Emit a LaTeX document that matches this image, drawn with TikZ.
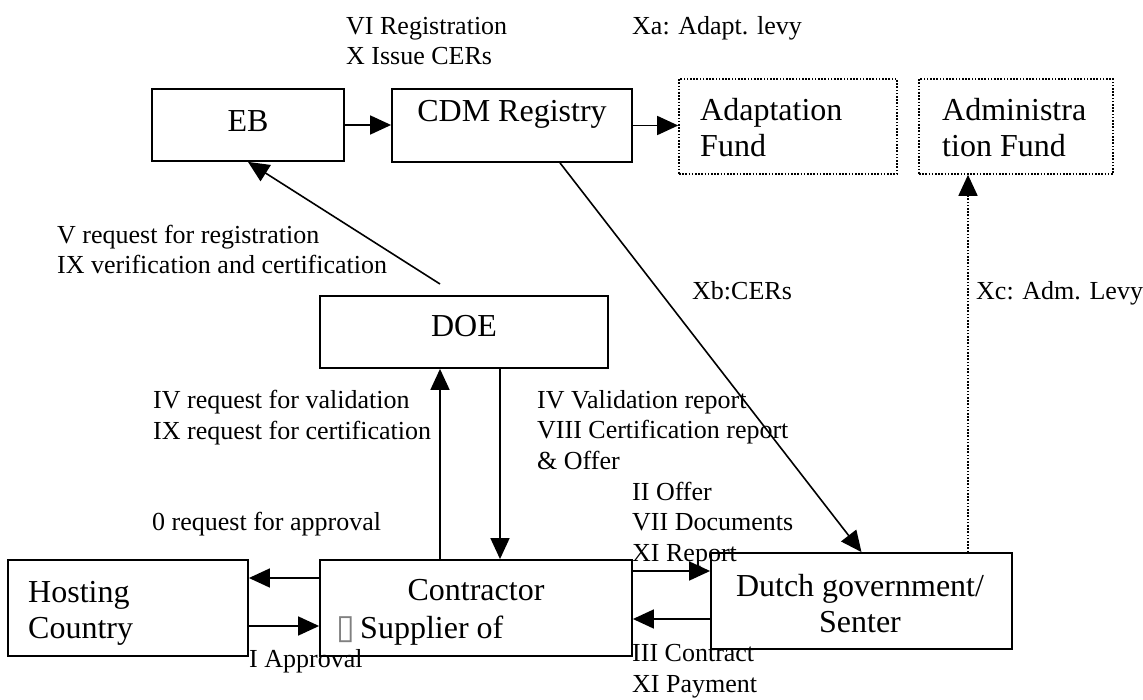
\documentclass[tikz,border=0pt]{standalone}
\usepackage{fontspec}
\setmainfont{Liberation Serif}
\newfontfamily\glyphfont{DejaVu Sans}
\usetikzlibrary{arrows.meta}

\begin{document}
\begin{tikzpicture}[x=1pt,y=-1pt,
		box/.style={draw, line width=1.8pt, inner sep=0pt},
		fundbox/.style={draw, line width=1.6pt, dash pattern=on 1.6pt off 1.6pt, inner sep=0pt},
		boxtext/.style={font=\fontsize{32}{36}\selectfont, inner sep=0pt},
		lbl/.style={font=\fontsize{26}{30.5}\selectfont, inner sep=0pt, align=left, anchor=base west},
		flow/.style={line width=1.6pt, -{Triangle[length=21pt,width=19pt]}},
		levyflow/.style={flow, dash pattern=on 1.6pt off 1.6pt}]
	\useasboundingbox (0,0) rectangle (1143,700);

	% boxes
	\node[box, minimum width=192pt, minimum height=72pt] (eb) at (248,125) {};
	\node[box, minimum width=240pt, minimum height=73pt] (cdm) at (512,125.5) {};
	\node[fundbox, minimum width=218pt, minimum height=95pt] (adapt) at (788,126.5) {};
	\node[fundbox, minimum width=194pt, minimum height=95pt] (admin) at (1016,126.5) {};
	\node[box, minimum width=288pt, minimum height=72pt] (doe) at (464,332) {};
	\node[box, minimum width=240pt, minimum height=96pt] (host) at (128,608) {};
	\node[box, minimum width=312pt, minimum height=96pt] (con) at (476,608) {};
	\node[box, minimum width=301pt, minimum height=96pt] (dutch) at (861.5,601) {};

	% box texts (base = last line)
	\node[boxtext, anchor=base] (eb-t) at (248,132) {EB};
	\node[boxtext, anchor=base] (cdm-t) at (512,122) {CDM Registry};
	\node[boxtext, anchor=base west, align=left] (adapt-t) at (700,157) {Adaptation\\Fund};
	\node[boxtext, anchor=base west, align=left] (admin-t) at (942,157) {Administra\\tion Fund};
	\node[boxtext, anchor=base] (doe-t) at (464,337) {DOE};
	\node[boxtext, anchor=base west, align=left] (host-t) at (28,638) {Hosting\\Country};
	\node[boxtext, anchor=base] (con-t) at (476,600) {Contractor};
	\node[boxtext, anchor=base west] (sup-t) at (336,638) {{\glyphfont\fontsize{34}{34}\selectfont\color{gray}▯}\,Supplier of};
	\node[boxtext, anchor=base, align=center] (dutch-t) at (860,632) {Dutch government/\\Senter};

	% connectors
	\coordinate (doe-out) at (440,284);
	\coordinate (levy-c) at ([xshift=-48pt]admin.south);
	\draw[flow] (eb.east) -- (eb.east -| cdm.west);
	\draw[flow] (cdm.east) -- (cdm.east -| adapt.west);
	\draw[flow] (doe-out) -- (eb.south);
	\draw[flow] ([xshift=48pt]cdm.south) -- (dutch.north);
	\draw[levyflow] (levy-c |- dutch.north) -- (levy-c);
	\draw[flow] ([xshift=-36pt]con.north) -- ([xshift=-36pt]con.north |- doe.south);
	\draw[flow] ([xshift=36pt]doe.south) -- ([xshift=36pt]doe.south |- con.north);
	\draw[flow] ([yshift=30pt]con.west) -- ([yshift=30pt]con.west -| host.east);
	\draw[flow] ([yshift=-18pt]host.east) -- ([yshift=-18pt]host.east -| con.west);
	\draw[flow] ([yshift=37pt]con.east) -- ([yshift=37pt]con.east -| dutch.west);
	\draw[flow] ([yshift=-11pt]con.east -| dutch.west) -- ([yshift=-11pt]con.east);

	% labels (base = last line)
	\node[lbl] (l-reg) at (346,65) {VI Registration\\X Issue CERs};
	\node[lbl] (l-xa) at (632,35) {Xa: Adapt. levy};
	\node[lbl] (l-req) at (57,274) {V request for registration\\IX verification and certification};
	\node[lbl] (l-xb) at (692,300) {Xb:CERs};
	\node[lbl] (l-xc) at (976,300) {Xc: Adm. Levy};
	\node[lbl] (l-val) at (153,439) {IV request for validation\\IX request for certification};
	\node[lbl] (l-rep) at (537,469) {IV Validation report\\VIII Certification report\\\& Offer};
	\node[lbl] (l-offer) at (632,561) {II Offer\\VII Documents\\XI Report};
	\node[lbl] (l-appr) at (152,530) {0 request for approval};
	\node[lbl] (l-i) at (249,667) {I Approval};
	\node[lbl] (l-pay) at (632,692) {III Contract\\XI Payment};
\end{tikzpicture}
\end{document}
